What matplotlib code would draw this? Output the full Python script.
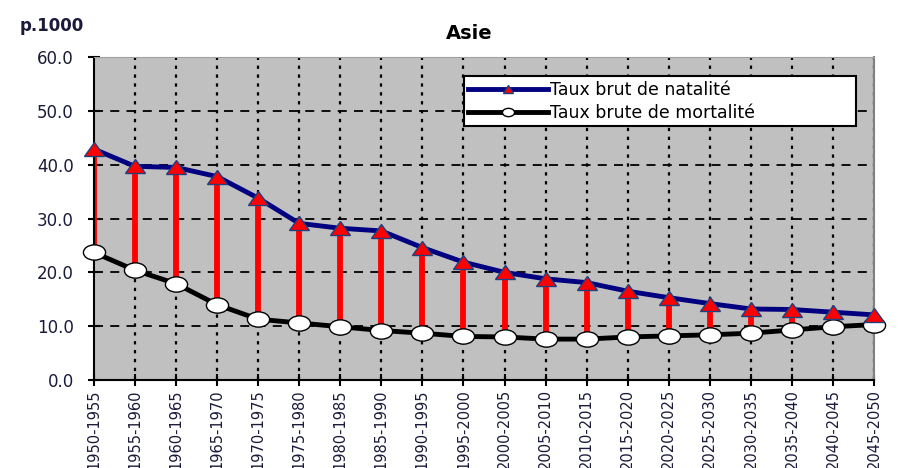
import numpy as np
import matplotlib.pyplot as plt
from matplotlib.markers import MarkerStyle
from matplotlib.transforms import Affine2D

plt.rcParams['font.family'] = ['DejaVu Sans']

# Periods and rates (per 1000)
periods = ['1950-1955', '1955-1960', '1960-1965', '1965-1970', '1970-1975',
           '1975-1980', '1980-1985', '1985-1990', '1990-1995', '1995-2000',
           '2000-2005', '2005-2010', '2010-2015', '2015-2020', '2020-2025',
           '2025-2030', '2030-2035', '2035-2040', '2040-2045', '2045-2050']
natalite = [42.9, 39.7, 39.5, 37.8, 33.8, 29.1, 28.2, 27.7, 24.6, 21.9,
            20.0, 18.8, 18.1, 16.5, 15.3, 14.2, 13.2, 13.1, 12.6, 12.1]
mortalite = [23.7, 20.4, 17.9, 14.0, 11.3, 10.6, 9.9, 9.2, 8.7, 8.1,
             8.0, 7.6, 7.6, 8.0, 8.2, 8.4, 8.7, 9.3, 9.9, 10.3]
yticks = [0, 10, 20, 30, 40, 50, 60]

x = np.arange(len(periods))

fig = plt.figure(figsize=(9.03, 4.68), dpi=100)
ax = fig.add_axes([0.104, 0.188, 0.864, 0.690])
ax.set_facecolor('#c0c0c0')

# grid
for yv in yticks[1:-1]:
    ax.axhline(yv, color='black', lw=1.3, ls=(0, (5, 4)), zorder=1)
for xv in x[1:]:
    ax.axvline(xv, color='black', lw=1.6, ls=(0, (1.5, 2.5)), zorder=1)

# high-low lines
ax.vlines(x, mortalite, natalite, color='#ff0000', lw=4.2, zorder=2)

tri = MarkerStyle('^', transform=Affine2D().scale(1.25, 0.95))
circ = MarkerStyle('o', transform=Affine2D().scale(1.45, 1.0))

ax.plot(x, natalite, color='#000080', lw=3.5, marker=tri, markersize=11,
        markerfacecolor='#ff0000', markeredgecolor='#1f3f7f', markeredgewidth=1,
        label='Taux brut de natalité', zorder=4, clip_on=False)
ax.plot(x, mortalite, color='black', lw=3.5, marker=circ, markersize=11,
        markerfacecolor='white', markeredgecolor='black', markeredgewidth=1,
        label='Taux brute de mortalité', zorder=3, clip_on=False)

ax.set_xlim(0, len(periods) - 1)
ax.set_ylim(0, 60)
ax.set_yticks(yticks)
ax.set_yticklabels([f'{v:.1f}' for v in yticks], fontsize=12, color='#1a1a3a')
ax.set_xticks(x)
ax.set_xticklabels(periods, rotation=90, fontsize=10.5, color='#1a1a3a')
ax.tick_params(axis='both', direction='inout', length=9, width=1.5)
ax.tick_params(axis='y', pad=10)
ax.tick_params(axis='x', pad=2)

ax.spines['top'].set_color('#a0a0a0')
ax.spines['right'].set_color('#808080')
ax.spines['right'].set_linewidth(1.5)
ax.spines['left'].set_linewidth(1.5)
ax.spines['bottom'].set_linewidth(1.5)

leg = ax.legend(loc='upper left', bbox_to_anchor=(0.474, 0.94, 0.503, 0.0),
                mode='expand', fontsize=12.5,
                frameon=True, fancybox=False, handlelength=4.6, handletextpad=0.1,
                borderpad=0.25, labelspacing=0.3, borderaxespad=0)
leg.get_frame().set_edgecolor('black')
leg.get_frame().set_linewidth(1.5)
leg.get_frame().set_alpha(1)
for h in leg.legend_handles:
    h.set_markersize(6)

fig.text(0.52, 0.928, 'Asie', fontsize=14, fontweight='bold', ha='center', va='center')
fig.text(0.022, 0.945, 'p.1000', fontsize=12, fontweight='bold', ha='left', va='center',
         color='#1a1a3a')

fig.savefig('out.png', dpi=100)
